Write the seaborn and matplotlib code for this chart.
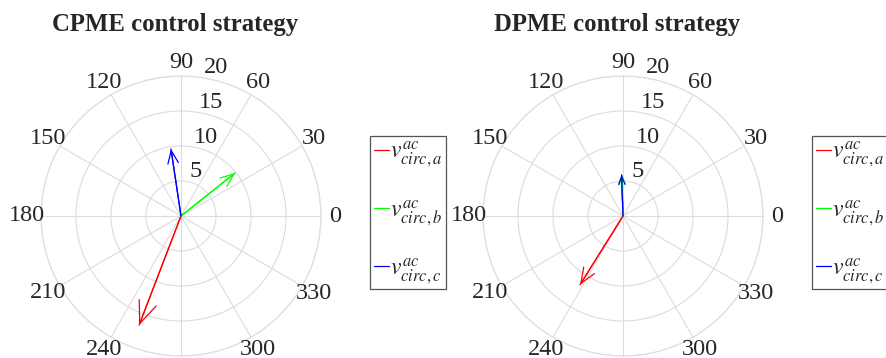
import numpy as np
import pandas as pd
import matplotlib
matplotlib.use("Agg")
import matplotlib.pyplot as plt
import seaborn as sns

sns.set_theme(style="white")
plt.rcParams.update({
    "font.family": ["Liberation Serif", "DejaVu Serif"],
    "mathtext.fontset": "stix",
    "axes.facecolor": "white",
    "figure.facecolor": "white",
})

# Data (magnitude, angle in degrees)
titles = ["CPME control strategy", "DPME control strategy"]
phases = [r"$v^{ac}_{circ,a}$", r"$v^{ac}_{circ,b}$", r"$v^{ac}_{circ,c}$"]
colors = ["#ff0000", "#00ff00", "#0000ff"]
cpme_mag = [16.7, 9.9, 9.7]
cpme_ang = [249, 38.5, 98.5]
dpme_mag = [11.6, 5.8, 5.9]
dpme_ang = [238, 91.5, 92]
theta_ticks = list(range(0, 360, 30))
r_ticks = [5, 10, 15, 20]
r_max = 20

GRID = "#dcdcdc"
TICK_FS = 17.5


def build_df(mags, angs):
    rows = []
    for name, m, a in zip(phases, mags, angs):
        th = np.deg2rad(a)
        rows.append({"phase": name, "theta": th, "r": 0.0})
        rows.append({"phase": name, "theta": th, "r": m})
    return pd.DataFrame(rows)


def compass(ax, mags, angs, legend_x):
    df = build_df(mags, angs)
    pal = dict(zip(phases, colors))
    sns.lineplot(data=df, x="theta", y="r", hue="phase", palette=pal,
                 estimator=None, sort=False, lw=0.9, ax=ax)
    # arrow heads, scaled with vector length like MATLAB's compass
    for name, m, a in zip(phases, mags, angs):
        ax.annotate("", xy=(np.deg2rad(a), m), xytext=(np.deg2rad(a), 0),
                    arrowprops=dict(arrowstyle=f"->,head_length={0.096 * m:.3f},head_width={0.039 * m:.3f}",
                                    color=pal[name], lw=0.9, shrinkA=0, shrinkB=0,
                                    mutation_scale=10))
    ax.set_ylim(0, r_max)
    ax.set_yticks(r_ticks)
    ax.set_yticklabels([])
    ax.set_xticks(np.deg2rad(theta_ticks))
    ax.set_xticklabels([])
    ax.grid(True, color=GRID, lw=0.8)
    ax.spines["polar"].set_color(GRID)
    ax.spines["polar"].set_linewidth(0.8)
    ax.set_xlabel("")
    ax.set_ylabel("")

    # MATLAB-style labels: angles centred just outside the rim,
    # radii along the 82 degree spoke (270 falls below the figure edge)
    for t in theta_ticks:
        if t == 270:
            continue
        ax.text(np.deg2rad(t), 1.1 * r_max, str(t), ha="center", va="center",
                fontsize=TICK_FS, clip_on=False)
    for r in r_ticks:
        ax.annotate(str(r), xy=(np.deg2rad(82), r), xytext=(2.5, 2.8),
                    textcoords="offset points", ha="left", va="baseline",
                    fontsize=TICK_FS, annotation_clip=False)

    handles, labels = ax.get_legend_handles_labels()
    ax.get_legend().remove()
    leg = ax.legend(handles, labels, loc="upper left",
                    bbox_to_anchor=(legend_x, 1 - 136 / 358),
                    bbox_transform=ax.figure.transFigure,
                    fontsize=17, handlelength=0.65, handletextpad=0.05,
                    borderaxespad=0, borderpad=0.15, labelspacing=1.2,
                    fancybox=False, framealpha=1, edgecolor="#555555")
    leg.get_frame().set_linewidth(0.9)


fig = plt.figure(figsize=(8.86, 3.58), dpi=100)
ax1 = fig.add_axes([41 / 886, 2 / 358, 280 / 886, 280 / 358], projection="polar")
ax2 = fig.add_axes([483 / 886, 2 / 358, 280 / 886, 280 / 358], projection="polar")

compass(ax1, cpme_mag, cpme_ang, 370 / 886)
compass(ax2, dpme_mag, dpme_ang, 812 / 886)

fig.text(175 / 886, 1 - 31 / 358, titles[0], ha="center", va="baseline",
         fontsize=17.8, fontweight="bold")
fig.text(617 / 886, 1 - 31 / 358, titles[1], ha="center", va="baseline",
         fontsize=17.8, fontweight="bold")

fig.savefig("out.png", dpi=100)
